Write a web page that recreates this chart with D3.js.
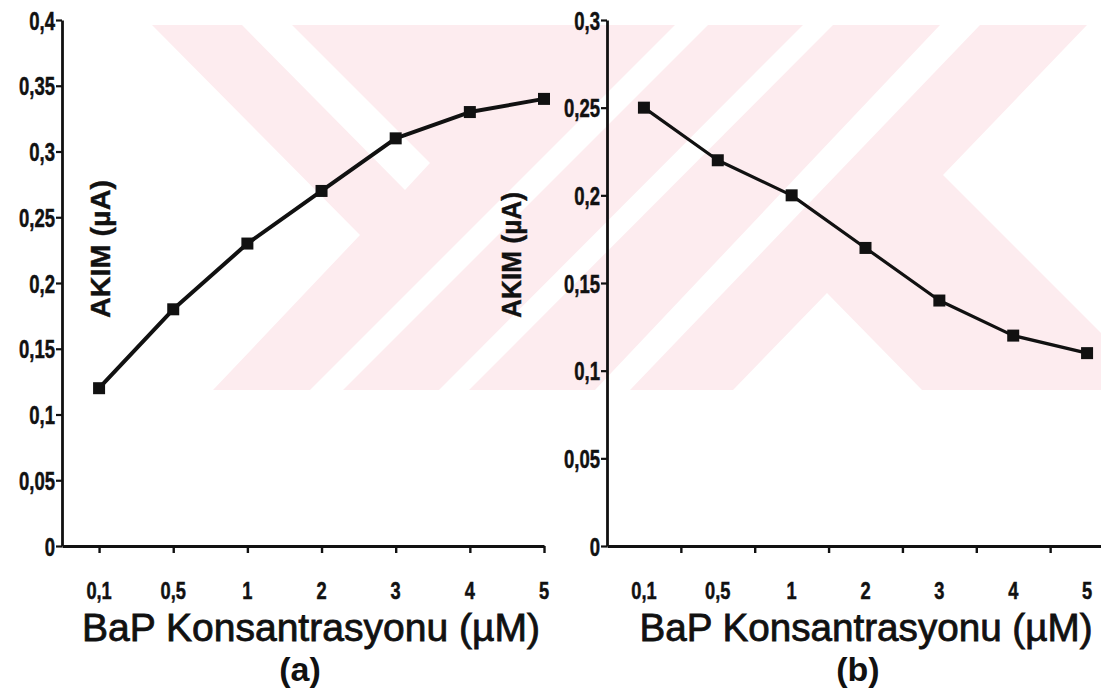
<!DOCTYPE html>
<html>
<head>
<meta charset="utf-8">
<script src="https://cdn.jsdelivr.net/npm/d3@7/dist/d3.min.js"></script>
<style>
  body { margin: 0; background: #fff; }
  text { font-family: "Liberation Sans", Arial, sans-serif; fill: #111; }
</style>
</head>
<body>
<svg id="chart" width="1101" height="688"></svg>
<script>
// data
const categories = ["0,1", "0,5", "1", "2", "3", "4", "5"];
const currentA = [0.12, 0.18, 0.23, 0.27, 0.31, 0.33, 0.34];
const currentB = [0.25, 0.22, 0.20, 0.17, 0.14, 0.12, 0.11];
const yTicksA = [0, 0.05, 0.1, 0.15, 0.2, 0.25, 0.3, 0.35, 0.4];
const yTicksB = [0, 0.05, 0.1, 0.15, 0.2, 0.25, 0.3];
const xTitle = "BaP Konsantrasyonu (µM)";
const yTitle = "AKIM (µA)";
const panelNames = ["(a)", "(b)"];

const svg = d3.select("#chart");
const comma = v => d3.format("~g")(v).replace(".", ",");

// squeeze text horizontally (the scan uses a condensed bold face)
function condense(sel, k) {
  sel.each(function() {
    const w = this.getComputedTextLength();
    d3.select(this).attr("textLength", w * k).attr("lengthAdjust", "spacingAndGlyphs");
  });
}

// faint pink watermark in the background
const wm = svg.append("g");
wm.append("clipPath").attr("id", "wmclip")
  .append("rect").attr("x", 150).attr("y", 25).attr("width", 951).attr("height", 365);
const wmg = wm.append("g").attr("clip-path", "url(#wmclip)");
const pinkShapes = [
  [[152,25],[1087,25],[943,175],[1101,333],[1101,390],[213,390],[360,235]]
];
const whiteShapes = [
  [[242,25],[292,25],[430,163],[405,190]],
  [[675,25],[708,25],[343,390],[310,390]],
  [[803,25],[833,25],[469,390],[439,390]],
  [[940,25],[980,25],[630,390],[595,390]],
  [[733,390],[827,293],[922,390]],
  [[900,220],[1101,421],[1101,390],[1070,390],[900,220]]
];
wmg.selectAll(".pink").data(pinkShapes).join("polygon")
  .attr("points", d => d.join(" ")).attr("fill", "#fdecef");
wmg.selectAll(".white").data(whiteShapes).join("polygon")
  .attr("points", d => d.join(" ")).attr("fill", "#fff");

function panel(opt) {
  const g = svg.append("g");
  const x = d3.scaleLinear().domain(opt.xDomain).range(opt.xRange);
  const y = d3.scaleLinear().domain([0, d3.max(opt.yTicks)]).range([546, 20]);

  // y axis
  const ya = g.append("g").attr("transform", `translate(${opt.xRange[0]},0)`)
    .call(d3.axisLeft(y).tickValues(opt.yTicks).tickFormat(comma).tickSize(6).tickSizeOuter(0).tickPadding(1));
  ya.attr("font-size", null).attr("font-family", null);
  ya.select(".domain").attr("stroke", "#111").attr("stroke-width", 2.8);
  ya.selectAll(".tick line").attr("stroke", "#111").attr("stroke-width", 2.2);
  ya.selectAll(".tick text")
    .style("font-size", "25px").style("font-weight", "bold")
    .attr("fill", "#111").attr("stroke", "#111").attr("stroke-width", 0.5).attr("dy", "0.36em")
    .call(condense, 0.74);

  // x axis
  const xa = g.append("g").attr("transform", "translate(0,546)")
    .call(d3.axisBottom(x).tickValues(opt.tickPos).tickFormat("").tickSize(7).tickSizeOuter(0));
  xa.select(".domain").attr("stroke", "#111").attr("stroke-width", 2.8);
  xa.selectAll(".tick line").attr("stroke", "#111").attr("stroke-width", 2.4);

  g.selectAll(".xlab").data(categories).join("text")
    .attr("x", (d, i) => x(i)).attr("y", 599)
    .attr("text-anchor", "middle")
    .style("font-size", "24px").style("font-weight", "bold")
    .attr("stroke", "#111").attr("stroke-width", 0.5)
    .text(d => d)
    .call(condense, 0.76);

  // line and markers
  const line = d3.line().x((d, i) => x(i)).y(d => y(d));
  g.append("path").datum(opt.values).attr("d", line)
    .attr("fill", "none").attr("stroke", "#111").attr("stroke-width", opt.lw)
    .attr("stroke-linejoin", "round");
  g.selectAll(".pt").data(opt.values).join("rect")
    .attr("x", (d, i) => x(i) - 6).attr("y", d => y(d) - 6)
    .attr("width", 12).attr("height", 12).attr("fill", "#111");

  // titles
  g.append("text").attr("x", opt.titleX).attr("y", 641).attr("text-anchor", "middle")
    .style("font-size", "38px").attr("textLength", opt.titleW).attr("lengthAdjust", "spacingAndGlyphs")
    .attr("stroke", "#111").attr("stroke-width", 0.8)
    .text(xTitle);
  g.append("text").attr("x", opt.nameX).attr("y", 681).attr("text-anchor", "middle")
    .style("font-size", "34px").style("font-weight", "bold").text(opt.name);
  g.append("text")
    .attr("transform", `translate(${opt.yLabX},${opt.yLabY}) rotate(-90)`)
    .attr("text-anchor", "middle").style("font-size", "27px").style("font-weight", "bold")
    .attr("stroke", "#111").attr("stroke-width", 0.4)
    .attr("textLength", opt.yLabW).attr("lengthAdjust", "spacingAndGlyphs")
    .text(yTitle);
}

panel({
  values: currentA, yTicks: yTicksA,
  xDomain: [-0.5, 6], xRange: [62, 544], tickPos: d3.range(0, 7),
  lw: 4, titleX: 311, titleW: 458, name: panelNames[0], nameX: 300,
  yLabX: 110, yLabY: 249, yLabW: 138
});
panel({
  values: currentB, yTicks: yTicksB,
  xDomain: [-0.5, 6.5], xRange: [607, 1124], tickPos: d3.range(0.5, 6, 1),
  lw: 3.2, titleX: 866, titleW: 453, name: panelNames[1], nameX: 858,
  yLabX: 521, yLabY: 255, yLabW: 126
});
</script>
</body>
</html>
